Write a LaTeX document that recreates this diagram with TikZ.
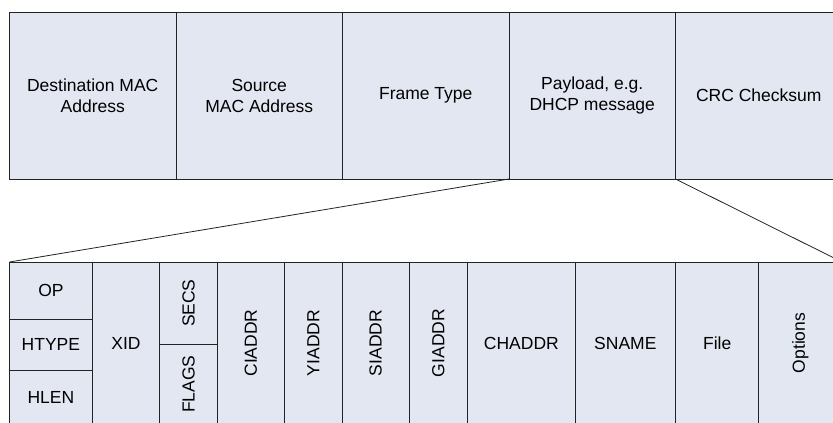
\documentclass[tikz,border=0pt]{standalone}
\usepackage{fontspec}
\setmainfont{Liberation Sans}
\usepackage{graphicx}
\usetikzlibrary{positioning}
\definecolor{fieldfill}{RGB}{227,231,241}
\definecolor{fieldline}{RGB}{35,35,35}
\tikzset{
  field/.style={draw=fieldline, fill=fieldfill, line width=0.8pt,
    inner sep=0pt, outer sep=0pt, align=center,
    font=\fontsize{17.5}{21}\selectfont},
  framefield/.style={field, minimum width=166.5, minimum height=167},
  dhcpfield/.style={field, minimum height=162},
  zoomline/.style={draw=fieldline, line width=0.8pt},
}

\begin{document}
\begin{tikzpicture}[x=1pt, y=-1pt]
    \useasboundingbox (0,0) rectangle (833,423);
    % ethernet frame
    \node[framefield, anchor=north west] (dest_mac) at (9.5,12) {Destination MAC\\Address};
    \node[framefield, right=0pt of dest_mac] (src_mac) {Source\\MAC Address};
    \node[framefield, right=0pt of src_mac] (frame_type) {Frame Type};
    \node[framefield, right=0pt of frame_type] (payload) {Payload, e.g.\\DHCP message};
    \node[framefield, right=0pt of payload] (crc) {CRC Checksum};
    % dhcp message
    \node[field, minimum width=82.8, minimum height=57.3, anchor=north west] (op) at (9.5,262) {OP};
    \node[field, minimum width=82.8, minimum height=50.7, below=0pt of op] (htype) {HTYPE};
    \node[field, minimum width=82.8, minimum height=54, below=0pt of htype] (hlen) {HLEN};
    \node[dhcpfield, minimum width=67.4, anchor=north west] (xid) at (op.north east) {XID};
    \node[field, minimum width=57.6, minimum height=82.3, anchor=north west] (secs) at (xid.north east) {\rotatebox{90}{SECS}};
    \node[field, minimum width=57.6, minimum height=79.7, below=0pt of secs] (flags) {\rotatebox{90}{FLAGS}};
    \node[dhcpfield, minimum width=67, anchor=north west] (ciaddr) at (secs.north east) {\rotatebox{90}{CIADDR}};
    \node[dhcpfield, minimum width=58, right=0pt of ciaddr] (yiaddr) {\rotatebox{90}{YIADDR}};
    \node[dhcpfield, minimum width=66.7, right=0pt of yiaddr] (siaddr) {\rotatebox{90}{SIADDR}};
    \node[dhcpfield, minimum width=58.7, right=0pt of siaddr] (giaddr) {\rotatebox{90}{GIADDR}};
    \node[dhcpfield, minimum width=107.3, right=0pt of giaddr] (chaddr) {CHADDR};
    \node[dhcpfield, minimum width=100.7, right=0pt of chaddr] (sname) {SNAME};
    \node[dhcpfield, minimum width=83, right=0pt of sname] (file) {File};
    \node[dhcpfield, minimum width=83.3, right=0pt of file] (options) {\rotatebox{90}{Options}};
    % zoom lines
    \draw[zoomline] (payload.south west) -- (op.north west);
    \draw[zoomline] (crc.south west) -- (options.north east);
\end{tikzpicture}
\end{document}
